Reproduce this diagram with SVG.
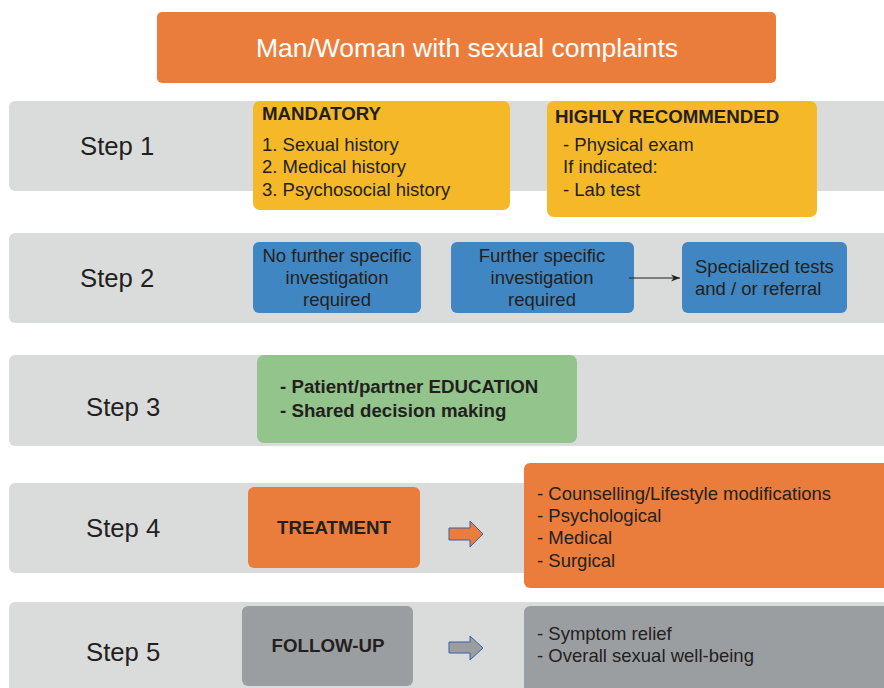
<svg xmlns="http://www.w3.org/2000/svg" width="884" height="688" viewBox="0 0 884 688">
  <style>
    text { font-family: "Liberation Sans", Arial, sans-serif; fill: #231F20; }
    .row { fill: #DADBDB; }
    .step { font-size: 25.7px; }
    .t { font-size: 18.5px; }
    .b { font-size: 18.7px; font-weight: bold; }
    .yellow { fill: #F5B829; }
    .blue { fill: #4086C2; }
    .green { fill: #92C48B; }
    .orange { fill: #EB7D3C; }
    .grey { fill: #9B9EA1; }
    .c { text-anchor: middle; }
  </style>
  <defs>
    <marker id="arrowhead" viewBox="0 0 10 10" refX="10" refY="5" markerWidth="9" markerHeight="9" orient="auto" markerUnits="userSpaceOnUse">
      <path d="M0,1 L10,5 L0,9 L3,5 z" fill="#231F20"/>
    </marker>
  </defs>

  <!-- title -->
  <g id="title">
    <rect x="157" y="12" width="619" height="71" rx="5" class="orange"/>
    <text x="467" y="57" class="c" style="font-size:26.5px; fill:#FFFFFF">Man/Woman with sexual complaints</text>
  </g>

  <!-- step bands -->
  <g id="bands">
    <rect x="9" y="101" width="885" height="90" rx="6" class="row"/>
    <rect x="9" y="233" width="885" height="90" rx="6" class="row"/>
    <rect x="9" y="355" width="885" height="91" rx="6" class="row"/>
    <rect x="9" y="483" width="885" height="90" rx="6" class="row"/>
    <rect x="9" y="602" width="885" height="100" rx="6" class="row"/>
    <text x="80" y="155" class="step">Step 1</text>
    <text x="80" y="287" class="step">Step 2</text>
    <text x="86" y="416" class="step">Step 3</text>
    <text x="86" y="537" class="step">Step 4</text>
    <text x="86" y="661" class="step">Step 5</text>
  </g>

  <!-- step 1 -->
  <g id="mandatory">
    <rect x="253" y="101" width="257" height="109" rx="7" class="yellow"/>
    <text x="262" y="120" class="b">MANDATORY</text>
    <text x="262" y="151" class="t">1. Sexual history</text>
    <text x="262" y="173" class="t">2. Medical history</text>
    <text x="262" y="196" class="t">3. Psychosocial history</text>
  </g>
  <g id="recommended">
    <rect x="547" y="101" width="270" height="116" rx="7" class="yellow"/>
    <text x="555" y="123" class="b">HIGHLY RECOMMENDED</text>
    <text x="563" y="151" class="t">- Physical exam</text>
    <text x="563" y="173" class="t">If indicated:</text>
    <text x="563" y="196" class="t">- Lab test</text>
  </g>

  <!-- step 2 -->
  <g id="no-further">
    <rect x="253" y="242" width="168" height="71" rx="6" class="blue"/>
    <text x="337" y="262" class="t c">No further specific</text>
    <text x="337" y="284" class="t c">investigation</text>
    <text x="337" y="306" class="t c">required</text>
  </g>
  <g id="further">
    <rect x="451" y="242" width="183" height="71" rx="6" class="blue"/>
    <text x="542" y="262" class="t c">Further specific</text>
    <text x="542" y="284" class="t c">investigation</text>
    <text x="542" y="306" class="t c">required</text>
  </g>
  <g id="specialized">
    <rect x="682" y="242" width="165" height="71" rx="6" class="blue"/>
    <text x="695" y="273" class="t">Specialized tests</text>
    <text x="695" y="295" class="t">and / or referral</text>
  </g>

  <!-- step 3 -->
  <g id="education">
    <rect x="257" y="355" width="320" height="88" rx="7" class="green"/>
    <text x="280" y="393" class="b">- Patient/partner EDUCATION</text>
    <text x="280" y="417" class="b">- Shared decision making</text>
  </g>

  <!-- step 4 -->
  <g id="treatment">
    <rect x="248" y="487" width="172" height="81" rx="6" class="orange"/>
    <text x="334" y="534" class="b c">TREATMENT</text>
  </g>
  <g id="treatment-options">
    <rect x="524" y="463" width="370" height="125" rx="6" class="orange"/>
    <text x="537" y="500" class="t">- Counselling/Lifestyle modifications</text>
    <text x="537" y="522" class="t">- Psychological</text>
    <text x="537" y="544" class="t">- Medical</text>
    <text x="537" y="567" class="t">- Surgical</text>
  </g>

  <!-- step 5 -->
  <g id="follow-up">
    <rect x="242" y="606" width="171" height="80" rx="6" class="grey"/>
    <text x="328" y="652" class="b c">FOLLOW-UP</text>
  </g>
  <g id="outcomes">
    <rect x="524" y="606" width="370" height="100" rx="6" class="grey"/>
    <text x="537" y="640" class="t">- Symptom relief</text>
    <text x="537" y="662" class="t">- Overall sexual well-being</text>
  </g>

  <!-- connectors -->
  <g id="connectors">
    <line x1="629" y1="278" x2="680" y2="278" stroke="#231F20" stroke-width="1.2" marker-end="url(#arrowhead)"/>
    <path d="M449,528 L470,528 L470,521 L483,534 L470,547 L470,540 L449,540 Z" fill="#EB7D3C" stroke="#3B5EA6" stroke-width="1"/>
    <path d="M449,642 L470,642 L470,636 L483,648 L470,660 L470,653 L449,653 Z" fill="#9B9EA1" stroke="#3B5EA6" stroke-width="1"/>
  </g>
</svg>
